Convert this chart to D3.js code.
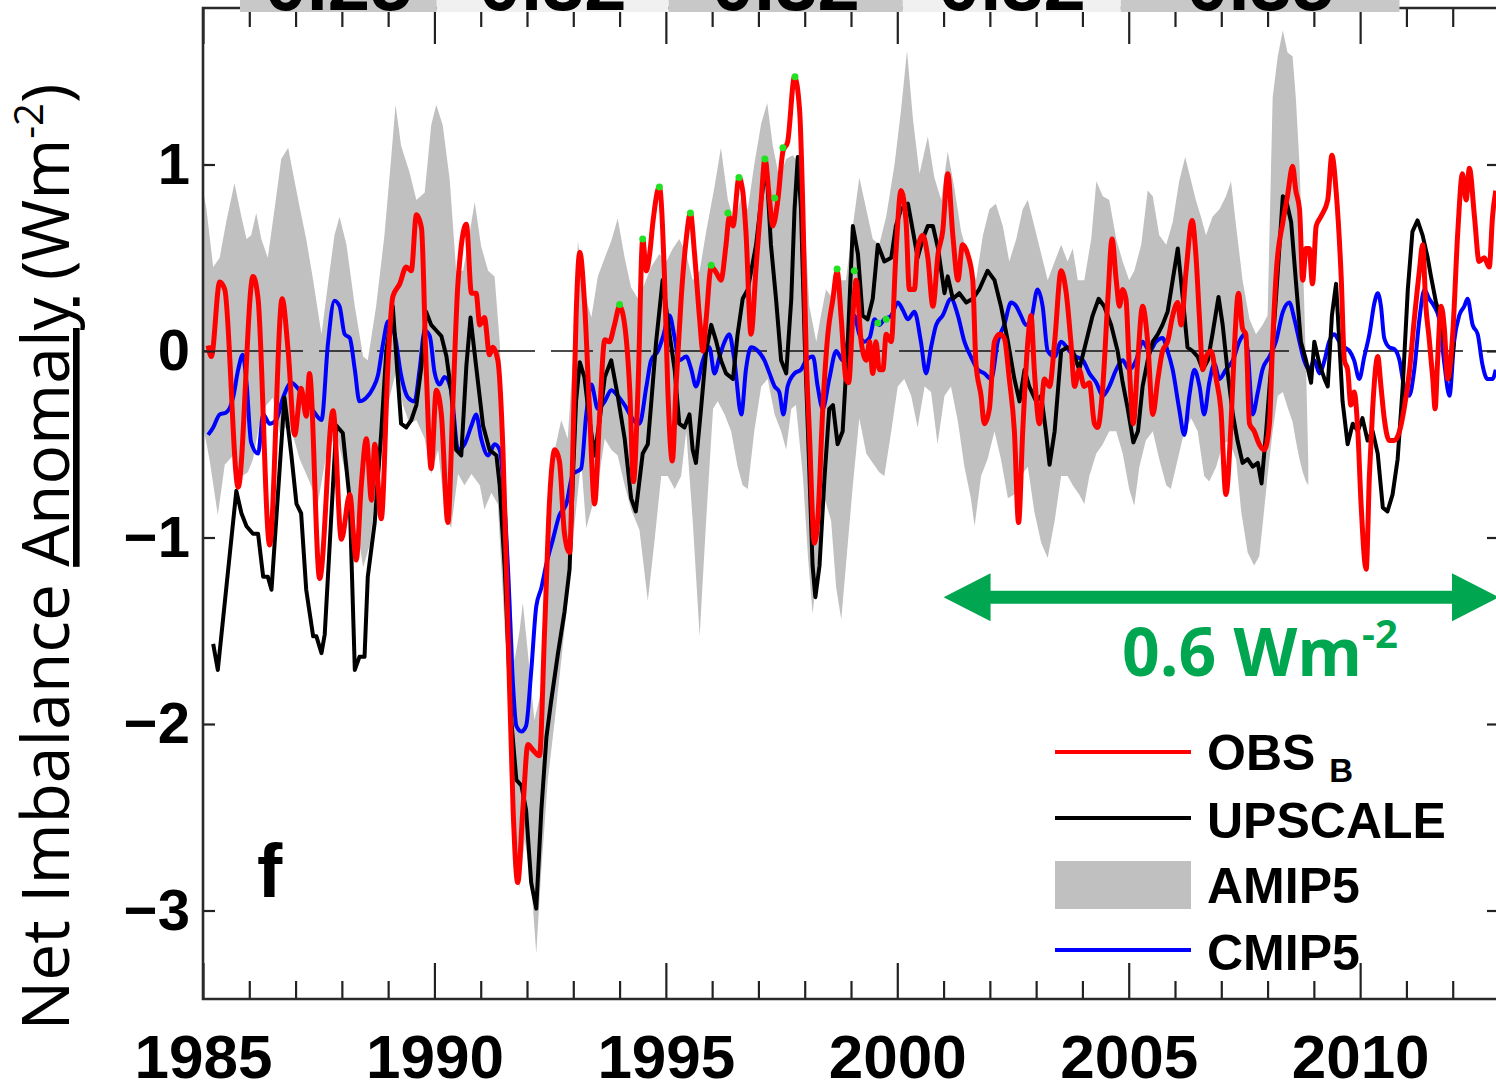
<!DOCTYPE html>
<html>
<head>
<meta charset="utf-8">
<script src="https://cdn.jsdelivr.net/npm/d3@7"></script>
<style>
  body { margin: 0; background: #fff; }
  svg { display: block; }
</style>
</head>
<body>
<div id="chart"></div>
<script>
// ---- data (year, W m-2) ----
const obsB = [[1985.11,0.03],[1985.18,-0.03],[1985.36,0.37],[1985.47,0.33],[1985.76,-0.73],[1986.08,0.40],[1986.19,0.28],[1986.44,-1.04],[1986.71,0.28],[1986.84,0.0],[1986.98,-0.45],[1987.12,-0.2],[1987.23,-0.35],[1987.30,-0.12],[1987.52,-1.22],[1987.81,-0.32],[1987.99,-1.01],[1988.17,-0.77],[1988.31,-1.12],[1988.42,-0.72],[1988.53,-0.47],[1988.64,-0.8],[1988.71,-0.5],[1988.85,-0.9],[1989.00,-0.05],[1989.10,0.29],[1989.25,0.36],[1989.39,0.45],[1989.50,0.43],[1989.61,0.73],
[1989.72,0.66],[1989.82,-0.08],[1989.93,-0.63],[1990.04,-0.21],[1990.15,-0.34],[1990.29,-0.92],[1990.40,-0.27],[1990.51,0.37],[1990.69,0.68],[1990.80,0.31],[1990.90,0.31],[1990.98,0.14],[1991.08,0.18],[1991.19,-0.02],[1991.26,0.02],[1991.37,-0.05],[1991.48,-0.53],[1991.59,-1.5],[1991.70,-2.46],[1991.80,-2.85],[1991.91,-2.46],[1992.02,-2.11],[1992.13,-2.14],[1992.27,-2.17],[1992.38,-1.5],[1992.49,-0.79],[1992.60,-0.53],[1992.70,-0.59],[1992.81,-0.98],[1992.92,-1.08],[1992.99,-0.53],[1993.06,0.18],[1993.14,0.53],[1993.24,0.27],[1993.35,-0.31],[1993.46,-0.82],[1993.57,-0.34],[1993.68,0.06],[1993.78,0.05],[1993.89,0.14],[1994.00,0.24],[1994.11,0.14],[1994.22,-0.21],
[1994.30,-0.7],[1994.40,-0.19],[1994.50,0.60],[1994.58,0.43],[1994.65,0.52],[1994.72,0.69],[1994.86,0.88],[1994.97,0.40],[1995.04,-0.19],[1995.14,-0.59],[1995.22,-0.19],[1995.33,0.28],[1995.44,0.60],[1995.53,0.74],[1995.62,0.52],[1995.73,0.17],[1995.80,0.0],[1995.87,0.17],[1995.98,0.45],[1996.09,0.42],[1996.19,0.38],[1996.30,0.57],[1996.37,0.72],[1996.45,0.67],[1996.58,0.93],[1996.66,0.86],[1996.73,0.64],[1996.84,0.09],[1996.95,0.45],[1997.06,0.81],[1997.14,1.03],[1997.24,0.81],[1997.31,0.67],[1997.42,0.81],[1997.53,1.07],[1997.63,1.12],[1997.78,1.47],[1997.89,1.29],[1997.96,0.76],[1998.03,0.0],[1998.10,-0.43],[1998.21,-1.03],[1998.28,-0.91],[1998.39,-0.31],[1998.50,0.09],[1998.61,0.28],[1998.70,0.43],[1998.79,0.17],[1998.89,-0.15],
[1998.95,-0.17],[1999.04,0.19],[1999.11,0.38],[1999.22,0.05],[1999.33,-0.05],[1999.40,0.05],[1999.47,-0.12],[1999.54,0.05],[1999.61,-0.10],[1999.69,-0.10],[1999.76,0.09],[1999.87,0.05],[1999.97,0.52],[2000.08,0.86],[2000.19,0.69],[2000.26,0.33],[2000.37,0.33],[2000.44,0.55],[2000.55,0.62],[2000.66,0.50],[2000.77,0.24],[2000.88,0.52],[2000.98,0.64],[2001.09,0.95],[2001.20,0.62],[2001.31,0.38],[2001.41,0.57],[2001.52,0.52],[2001.63,0.38],[2001.70,-0.07],[2001.81,-0.24],[2001.88,-0.39],[2001.99,-0.31],[2002.10,0.05],[2002.21,0.09],[2002.31,0.07],[2002.42,-0.15],[2002.53,-0.43],[2002.62,-0.92],[2002.71,-0.43],[2002.82,0.05],[2002.89,0.19],[2002.96,-0.10],[2003.07,-0.39],[2003.18,-0.15],[2003.29,-0.19],[2003.40,0.05],[2003.54,0.43],
[2003.65,0.31],[2003.75,0.05],[2003.83,-0.19],[2003.93,-0.10],[2004.04,-0.19],[2004.15,-0.17],[2004.26,-0.39],[2004.33,-0.41],[2004.44,-0.19],[2004.55,0.28],[2004.64,0.60],[2004.73,0.38],[2004.80,0.24],[2004.87,0.33],[2004.94,0.28],[2005.01,-0.07],[2005.10,-0.39],[2005.19,-0.07],[2005.30,0.24],[2005.41,0.05],[2005.52,-0.34],[2005.63,-0.15],[2005.73,0.0],[2005.84,0.05],[2005.95,0.19],[2006.06,0.26],[2006.13,0.14],[2006.24,0.43],[2006.37,0.70],[2006.45,0.52],[2006.53,0.17],[2006.60,-0.10],[2006.67,-0.03],[2006.78,0.0],[2006.89,-0.15],[2006.99,-0.31],[2007.10,-0.77],[2007.21,-0.39],[2007.28,0.0],[2007.37,0.31],[2007.46,0.12],[2007.53,0.09],[2007.61,-0.39],[2007.71,-0.43],[2007.82,-0.50],[2007.93,-0.53],[2008.04,-0.39],[2008.11,0.05],[2008.19,0.43],
[2008.33,0.69],[2008.43,0.83],[2008.54,0.99],[2008.61,0.86],[2008.69,0.76],[2008.76,0.38],[2008.83,0.55],[2008.90,0.55],[2008.97,0.36],[2009.05,0.67],[2009.15,0.72],[2009.30,0.81],[2009.39,1.05],[2009.48,0.86],[2009.59,0.40],[2009.66,-0.05],[2009.73,-0.10],[2009.80,-0.29],[2009.87,-0.22],[2009.95,-0.43],[2010.02,-0.82],[2010.13,-1.17],[2010.20,-0.67],[2010.27,-0.31],[2010.38,-0.03],[2010.45,-0.19],[2010.52,-0.36],[2010.63,-0.48],[2010.74,-0.48],[2010.85,-0.43],[2010.95,-0.31],[2011.06,-0.12],[2011.17,0.17],[2011.28,0.43],[2011.35,0.57],[2011.42,0.24],[2011.49,0.07],[2011.57,-0.15],[2011.62,-0.31],[2011.67,-0.07],[2011.75,0.24],[2011.82,0.12],[2011.89,-0.15],[2012.00,0.09],[2012.11,0.64],[2012.21,0.95],[2012.29,0.81],[2012.36,0.98],[2012.47,0.72],[2012.57,0.48],[2012.68,0.50],[2012.79,0.45],[2012.86,0.72],[2012.93,0.86]];

const upscale = [[1985.22,-1.57],[1985.32,-1.71],[1985.72,-0.75],[1985.83,-0.87],[1985.94,-0.94],[1986.08,-0.98],[1986.19,-0.98],[1986.30,-1.21],[1986.40,-1.21],[1986.48,-1.28],[1986.76,-0.25],[1986.91,-0.56],[1987.02,-0.82],[1987.12,-0.87],[1987.23,-1.28],[1987.38,-1.53],[1987.45,-1.53],[1987.56,-1.62],[1987.63,-1.52],[1987.88,-0.40],[1988.02,-0.44],[1988.17,-0.80],[1988.28,-1.71],[1988.38,-1.64],[1988.49,-1.64],[1988.56,-1.21],[1988.71,-0.92],[1988.85,-0.44],[1988.96,0.0],[1989.10,0.24],[1989.21,-0.15],[1989.28,-0.39],[1989.39,-0.41],[1989.50,-0.37],[1989.61,-0.29],
[1989.72,-0.08],[1989.82,0.21],[1989.93,0.14],[1990.04,0.11],[1990.15,0.08],[1990.26,-0.03],[1990.36,-0.21],[1990.47,-0.53],[1990.58,-0.56],[1990.69,-0.08],[1990.78,0.18],[1990.90,-0.08],[1991.05,-0.40],[1991.19,-0.53],[1991.34,-0.56],[1991.41,-0.72],[1991.52,-1.17],[1991.66,-1.98],[1991.77,-2.30],[1991.88,-2.33],[1991.98,-2.46],[1992.09,-2.85],[1992.20,-2.99],[1992.31,-2.46],[1992.42,-2.07],[1992.52,-1.88],[1992.67,-1.62],[1992.81,-1.40],[1992.92,-1.17],[1992.99,-0.69],[1993.06,-0.27],[1993.14,-0.06],[1993.24,-0.14],[1993.35,-0.37],[1993.46,-0.56],[1993.57,-0.37],[1993.68,-0.14],[1993.82,-0.05],[1993.96,-0.24],[1994.11,-0.47],[1994.25,-0.79],
[1994.35,-0.86],[1994.50,-0.55],[1994.61,-0.50],[1994.68,-0.29],[1994.79,0.05],[1994.93,0.38],[1995.08,0.09],[1995.19,-0.10],[1995.29,-0.39],[1995.40,-0.41],[1995.51,-0.34],[1995.58,-0.53],[1995.65,-0.60],[1995.76,-0.31],[1995.87,0.0],[1995.98,0.14],[1996.09,0.05],[1996.19,-0.05],[1996.30,-0.12],[1996.45,-0.15],[1996.55,0.09],[1996.66,0.28],[1996.77,0.33],[1996.95,0.57],[1997.06,0.81],[1997.17,1.0],[1997.27,0.57],[1997.38,0.28],[1997.49,-0.05],[1997.60,-0.12],[1997.71,0.28],[1997.78,0.76],[1997.85,1.04],[1997.92,0.76],[1998.00,0.05],[1998.07,-0.43],[1998.17,-1.15],[1998.23,-1.32],[1998.32,-1.15],[1998.43,-0.67],[1998.53,-0.31],[1998.61,-0.29],[1998.71,-0.50],[1998.82,-0.43],[1998.93,0.05],
[1999.04,0.67],[1999.15,0.52],[1999.25,0.19],[1999.36,0.17],[1999.47,0.28],[1999.58,0.57],[1999.72,0.48],[1999.87,0.50],[1999.97,0.67],[2000.08,0.76],[2000.23,0.79],[2000.34,0.64],[2000.44,0.50],[2000.55,0.60],[2000.66,0.67],[2000.77,0.67],[2000.88,0.55],[2001.02,0.31],[2001.09,0.40],[2001.20,0.28],[2001.34,0.31],[2001.49,0.26],[2001.63,0.28],[2001.77,0.33],[2001.95,0.43],[2002.10,0.38],[2002.24,0.24],[2002.39,0.05],[2002.53,-0.15],[2002.64,-0.27],[2002.75,-0.10],[2002.85,-0.19],[2003.00,-0.27],[2003.11,-0.24],[2003.21,-0.43],[2003.29,-0.61],[2003.40,-0.43],[2003.54,0.0],
[2003.68,0.02],[2003.79,0.0],[2003.93,-0.10],[2004.08,0.05],[2004.22,0.19],[2004.35,0.28],[2004.47,0.24],[2004.62,0.14],[2004.76,0.0],[2004.87,-0.17],[2004.98,-0.31],[2005.10,-0.49],[2005.20,-0.43],[2005.30,-0.19],[2005.41,-0.05],[2005.52,0.05],[2005.63,0.09],[2005.73,0.14],[2005.84,0.21],[2005.95,0.38],[2006.06,0.55],[2006.17,0.28],[2006.27,0.02],[2006.38,0.0],[2006.49,-0.03],[2006.60,-0.10],[2006.71,-0.05],[2006.81,0.09],[2006.94,0.29],[2007.03,0.14],[2007.14,-0.12],[2007.25,-0.34],[2007.35,-0.48],[2007.46,-0.60],[2007.57,-0.58],[2007.68,-0.62],[2007.79,-0.60],[2007.87,-0.71],[2007.97,-0.43],[2008.07,-0.10],[2008.18,0.28],
[2008.33,0.83],[2008.40,0.81],[2008.51,0.69],[2008.61,0.38],[2008.72,0.05],[2008.83,-0.05],[2008.94,-0.17],[2009.01,0.05],[2009.12,-0.07],[2009.23,-0.15],[2009.30,-0.19],[2009.39,0.19],[2009.48,0.36],[2009.55,0.05],[2009.62,-0.27],[2009.73,-0.50],[2009.84,-0.39],[2009.95,-0.43],[2010.05,-0.36],[2010.16,-0.48],[2010.27,-0.43],[2010.38,-0.55],[2010.49,-0.84],[2010.59,-0.86],[2010.70,-0.77],[2010.81,-0.58],[2010.92,-0.19],[2011.03,0.33],[2011.13,0.64],[2011.24,0.70],[2011.35,0.62],[2011.46,0.50],[2011.53,0.40],[2011.64,0.26],[2011.75,0.17],[2011.85,0.0],[2011.93,-0.15],[2012.03,0.05]];

const cmip5 = [[1985.11,-0.45],[1985.22,-0.41],[1985.36,-0.34],[1985.50,-0.33],[1985.65,-0.25],[1985.76,-0.10],[1985.86,-0.02],[1985.94,-0.17],[1986.04,-0.49],[1986.19,-0.55],[1986.30,-0.34],[1986.44,-0.39],[1986.58,-0.37],[1986.73,-0.25],[1986.91,-0.17],[1987.05,-0.20],[1987.20,-0.25],[1987.38,-0.32],[1987.56,-0.37],[1987.70,0.04],[1987.84,0.27],[1987.95,0.24],[1988.06,0.09],[1988.17,0.07],[1988.28,-0.10],[1988.38,-0.27],[1988.53,-0.25],[1988.67,-0.20],[1988.78,-0.13],[1988.89,0.04],[1989.00,0.16],[1989.14,0.09],[1989.28,-0.13],[1989.43,-0.25],[1989.57,-0.27],[1989.68,-0.1],[1989.79,0.11],[1989.90,0.08],[1990.00,-0.11],[1990.11,-0.18],[1990.22,-0.14],[1990.36,-0.21],[1990.51,-0.53],[1990.65,-0.50],[1990.80,-0.40],[1990.90,-0.34],[1991.01,-0.47],[1991.16,-0.56],[1991.30,-0.50],[1991.41,-0.53],[1991.59,-1.17],[1991.70,-1.80],[1991.77,-2.01],[1991.88,-2.04],[1991.98,-2.01],[1992.09,-1.72],[1992.20,-1.37],[1992.31,-1.27],[1992.42,-1.14],[1992.56,-1.01],[1992.70,-0.88],[1992.85,-0.82],[1992.99,-0.66],[1993.17,-0.63],[1993.28,-0.34],[1993.39,-0.18],[1993.53,-0.31],[1993.68,-0.27],[1993.82,-0.21],[1993.96,-0.24],[1994.11,-0.29],[1994.30,-0.37],[1994.43,-0.39],[1994.58,-0.19],[1994.68,-0.05],[1994.83,0.0],[1994.93,0.07],[1995.08,0.19],[1995.19,0.07],[1995.29,-0.05],[1995.44,-0.03],[1995.55,-0.10],[1995.65,-0.19],[1995.80,-0.05],[1995.94,0.02],[1996.05,-0.12],[1996.16,-0.03],[1996.27,0.05],[1996.37,0.09],[1996.48,-0.05],[1996.63,-0.34],[1996.73,-0.10],[1996.84,0.02],[1996.99,0.0],[1997.13,-0.05],[1997.24,-0.12],[1997.35,-0.19],[1997.45,-0.22],[1997.54,-0.34],[1997.63,-0.19],[1997.78,-0.12],[1997.92,-0.10],[1998.03,-0.05],[1998.18,-0.03],[1998.28,-0.19],[1998.39,-0.31],[1998.53,-0.15],[1998.68,0.0],[1998.82,-0.05],[1998.93,0.05],[1999.07,0.19],[1999.18,0.09],[1999.29,0.05],[1999.40,0.07],[1999.51,0.17],[1999.61,0.14],[1999.72,0.17],[1999.87,0.19],[2000.01,0.26],[2000.12,0.22],[2000.23,0.17],[2000.37,0.21],[2000.51,0.05],[2000.62,-0.12],[2000.73,0.02],[2000.84,0.14],[2000.98,0.19],[2001.16,0.28],[2001.31,0.19],[2001.45,0.05],[2001.59,-0.03],[2001.74,-0.10],[2001.88,-0.12],[2002.03,-0.15],[2002.17,0.05],[2002.31,0.14],[2002.46,0.26],[2002.57,0.24],[2002.67,0.19],[2002.78,0.14],[2002.89,0.17],[2003.03,0.33],[2003.14,0.24],[2003.25,0.0],[2003.40,-0.03],[2003.54,0.05],[2003.72,0.0],[2003.86,-0.03],[2004.01,-0.05],[2004.15,-0.12],[2004.30,-0.17],[2004.44,-0.24],[2004.58,-0.19],[2004.73,-0.10],[2004.87,-0.05],[2005.01,-0.10],[2005.16,-0.05],[2005.30,0.05],[2005.45,0.0],[2005.59,0.05],[2005.73,0.07],[2005.84,0.0],[2005.95,-0.10],[2006.09,-0.31],[2006.20,-0.45],[2006.31,-0.24],[2006.42,-0.10],[2006.53,-0.19],[2006.63,-0.34],[2006.74,-0.17],[2006.85,-0.07],[2006.96,-0.15],[2007.10,-0.10],[2007.25,-0.05],[2007.39,0.05],[2007.50,0.09],[2007.57,0.0],[2007.68,-0.34],[2007.79,-0.22],[2007.89,-0.10],[2008.04,-0.03],[2008.18,0.05],[2008.33,0.21],[2008.47,0.26],[2008.58,0.17],[2008.69,0.05],[2008.79,-0.05],[2008.90,-0.10],[2009.01,-0.05],[2009.12,-0.12],[2009.23,-0.05],[2009.33,0.05],[2009.44,0.09],[2009.55,0.05],[2009.66,0.02],[2009.77,0.0],[2009.87,-0.05],[2009.98,-0.15],[2010.09,-0.03],[2010.20,0.09],[2010.31,0.26],[2010.38,0.31],[2010.45,0.24],[2010.52,0.07],[2010.63,0.02],[2010.74,0.01],[2010.85,-0.05],[2010.95,-0.19],[2011.06,-0.24],[2011.17,-0.10],[2011.28,0.17],[2011.39,0.33],[2011.49,0.28],[2011.60,0.24],[2011.71,0.17],[2011.82,-0.07],[2011.93,-0.24],[2012.03,0.05],[2012.14,0.19],[2012.25,0.24],[2012.32,0.28],[2012.43,0.14],[2012.54,0.09],[2012.64,-0.07],[2012.75,-0.15],[2012.86,-0.15],[2012.93,-0.10]];

// AMIP5 envelope: upper and lower edges
const amipUpper = [[1985.00,0.86],[1985.07,0.77],[1985.22,0.45],[1985.36,0.50],[1985.50,0.69],[1985.68,0.90],[1985.83,0.72],[1985.94,0.60],[1986.04,0.62],[1986.15,0.74],[1986.26,0.60],[1986.40,0.50],[1986.55,0.77],[1986.69,1.03],[1986.84,1.09],[1986.94,0.96],[1987.09,0.77],[1987.23,0.60],[1987.38,0.38],[1987.56,0.09],[1987.70,0.36],[1987.84,0.62],[1987.95,0.72],[1988.10,0.57],[1988.28,0.24],[1988.46,-0.03],[1988.56,-0.05],[1988.74,0.24],[1988.92,0.62],[1989.07,1.05],[1989.16,1.32],[1989.28,1.10],[1989.46,0.96],[1989.61,0.81],[1989.79,0.85],[1989.93,1.21],[1990.04,1.32],[1990.18,1.21],[1990.33,0.92],[1990.47,0.43],[1990.62,0.43],[1990.76,0.63],[1990.87,0.80],[1991.01,0.56],[1991.16,0.43],[1991.30,0.40],[1991.41,0.05],[1991.52,-0.53],[1991.62,-1.17],[1991.73,-1.66],[1991.84,-1.50],[1991.91,-1.35],[1992.02,-1.62],[1992.16,-1.98],[1992.31,-1.82],[1992.45,-1.17],[1992.60,-0.53],[1992.74,-0.37],[1992.88,-0.47],[1992.99,-0.05],[1993.10,0.59],[1993.24,0.31],[1993.39,0.18],[1993.53,0.40],[1993.68,0.50],[1993.82,0.59],[1993.96,0.71],[1994.11,0.50],[1994.25,0.34],[1994.40,0.28],[1994.54,0.36],[1994.68,0.45],[1994.86,0.52],[1995.01,0.48],[1995.15,0.55],[1995.29,0.60],[1995.44,0.52],[1995.58,0.38],[1995.73,0.43],[1995.87,0.64],[1996.05,0.88],[1996.19,1.09],[1996.34,0.81],[1996.48,0.69],[1996.63,0.83],[1996.77,0.76],[1996.91,1.00],[1997.06,1.22],[1997.19,1.33],[1997.31,1.10],[1997.45,0.93],[1997.60,1.03],[1997.74,1.05],[1997.89,1.00],[1998.00,0.69],[1998.10,0.24],[1998.25,0.05],[1998.35,0.19],[1998.46,0.33],[1998.61,0.28],[1998.75,0.38],[1998.89,0.38],[1999.04,0.67],[1999.18,0.93],[1999.33,0.76],[1999.47,0.60],[1999.61,0.57],[1999.76,0.72],[1999.94,1.00],[2000.08,1.29],[2000.21,1.61],[2000.34,1.24],[2000.48,0.95],[2000.66,1.15],[2000.80,0.93],[2000.95,0.81],[2001.09,1.07],[2001.23,0.88],[2001.38,0.64],[2001.52,0.52],[2001.70,0.38],[2001.85,0.62],[2001.99,0.76],[2002.13,0.79],[2002.28,0.67],[2002.42,0.48],[2002.57,0.60],[2002.71,0.76],[2002.82,0.81],[2002.96,0.67],[2003.11,0.52],[2003.25,0.38],[2003.40,0.48],[2003.54,0.57],[2003.68,0.48],[2003.79,0.55],[2003.90,0.38],[2004.04,0.38],[2004.19,0.60],[2004.30,0.91],[2004.44,0.83],[2004.58,0.81],[2004.73,0.60],[2004.87,0.48],[2005.01,0.38],[2005.12,0.43],[2005.27,0.57],[2005.41,0.86],[2005.52,0.83],[2005.66,0.62],[2005.81,0.57],[2005.95,0.69],[2006.09,0.91],[2006.22,1.04],[2006.35,0.91],[2006.45,0.81],[2006.56,0.72],[2006.67,0.62],[2006.81,0.72],[2006.96,0.76],[2007.10,0.83],[2007.21,0.91],[2007.32,0.67],[2007.46,0.38],[2007.61,0.17],[2007.75,0.09],[2007.89,0.14],[2008.00,0.19],[2008.11,1.36],[2008.22,1.58],[2008.33,1.72],[2008.43,1.60],[2008.54,1.58],[2008.61,1.36],[2008.69,1.00],[2008.76,0.52],[2008.83,-0.07],[2008.88,-0.6]];

const amipLower = [[1985.00,-0.40],[1985.14,-0.58],[1985.32,-0.88],[1985.47,-0.61],[1985.65,-0.56],[1985.79,-0.68],[1985.97,-0.65],[1986.08,-0.58],[1986.22,-0.39],[1986.37,-0.29],[1986.51,-0.25],[1986.66,-0.44],[1986.87,-0.39],[1987.09,-0.58],[1987.30,-0.70],[1987.48,-0.82],[1987.66,-0.56],[1987.88,-0.44],[1988.10,-0.68],[1988.31,-0.92],[1988.46,-1.16],[1988.60,-1.04],[1988.74,-0.73],[1988.89,-0.49],[1989.03,-0.25],[1989.18,-0.10],[1989.32,-0.29],[1989.46,-0.39],[1989.61,-0.37],[1989.79,-0.47],[1989.93,-0.66],[1990.08,-0.53],[1990.22,-0.85],[1990.36,-0.95],[1990.51,-0.66],[1990.65,-0.72],[1990.80,-0.66],[1990.98,-0.72],[1991.08,-0.85],[1991.23,-0.76],[1991.37,-0.82],[1991.52,-1.50],[1991.66,-2.14],[1991.77,-2.72],[1991.84,-2.88],[1991.95,-2.62],[1992.09,-2.85],[1992.20,-3.23],[1992.31,-2.78],[1992.45,-2.30],[1992.60,-1.98],[1992.74,-1.66],[1992.88,-1.33],[1993.03,-0.92],[1993.17,-0.59],[1993.28,-0.95],[1993.39,-0.85],[1993.53,-0.72],[1993.68,-0.47],[1993.82,-0.53],[1993.96,-0.56],[1994.11,-0.72],[1994.25,-0.85],[1994.43,-0.96],[1994.61,-1.34],[1994.75,-1.03],[1994.90,-0.67],[1995.04,-0.67],[1995.19,-0.74],[1995.33,-0.67],[1995.44,-0.43],[1995.58,-0.91],[1995.73,-1.53],[1995.87,-0.91],[1996.02,-0.31],[1996.12,-0.27],[1996.27,-0.34],[1996.41,-0.43],[1996.55,-0.62],[1996.66,-0.72],[1996.77,-0.74],[1996.91,-0.43],[1997.06,-0.19],[1997.20,-0.15],[1997.35,-0.34],[1997.49,-0.43],[1997.60,-0.53],[1997.71,-0.31],[1997.81,-0.29],[1997.96,-0.67],[1998.07,-1.10],[1998.17,-1.41],[1998.28,-1.15],[1998.43,-0.79],[1998.57,-0.91],[1998.68,-1.27],[1998.79,-1.44],[1998.89,-1.15],[1999.04,-0.72],[1999.18,-0.36],[1999.33,-0.55],[1999.47,-0.60],[1999.61,-0.65],[1999.72,-0.67],[1999.87,-0.43],[2000.01,-0.19],[2000.15,-0.15],[2000.30,-0.24],[2000.44,-0.41],[2000.59,-0.19],[2000.73,-0.22],[2000.87,-0.50],[2001.02,-0.24],[2001.16,-0.19],[2001.31,-0.38],[2001.45,-0.62],[2001.59,-0.79],[2001.67,-0.94],[2001.81,-0.67],[2001.95,-0.58],[2002.10,-0.43],[2002.24,-0.58],[2002.39,-0.79],[2002.53,-0.77],[2002.67,-0.67],[2002.82,-0.62],[2002.96,-0.86],[2003.11,-1.03],[2003.25,-1.11],[2003.40,-0.91],[2003.54,-0.67],[2003.68,-0.67],[2003.79,-0.72],[2003.93,-0.77],[2004.04,-0.82],[2004.15,-0.67],[2004.30,-0.55],[2004.44,-0.50],[2004.58,-0.43],[2004.73,-0.43],[2004.87,-0.55],[2005.01,-0.74],[2005.12,-0.83],[2005.23,-0.62],[2005.37,-0.48],[2005.52,-0.43],[2005.66,-0.58],[2005.81,-0.72],[2005.91,-0.74],[2006.06,-0.58],[2006.20,-0.43],[2006.35,-0.36],[2006.49,-0.43],[2006.63,-0.67],[2006.74,-0.70],[2006.89,-0.62],[2007.03,-0.50],[2007.17,-0.48],[2007.32,-0.58],[2007.43,-0.86],[2007.57,-1.08],[2007.71,-1.15],[2007.82,-1.10],[2007.89,-0.94],[2008.00,-0.67],[2008.11,-0.43],[2008.22,-0.24],[2008.33,-0.22],[2008.43,-0.3],[2008.54,-0.38],[2008.61,-0.48],[2008.69,-0.58],[2008.76,-0.65],[2008.83,-0.7],[2008.88,-0.72]];

// green highlights on OBS peaks
const greenMarks = [[1994.00,0.25],[1994.50,0.60],[1994.86,0.88],[1995.53,0.74],[1995.98,0.46],[1996.34,0.74],[1996.58,0.93],[1997.14,1.03],[1997.35,0.82],[1997.53,1.09],[1997.79,1.47],[1998.70,0.44],[1999.07,0.43],[1999.58,0.15],[1999.76,0.17]];

const majorYears = [1985, 1990, 1995, 2000, 2005, 2010];
const minorYears = d3.range(1986, 2013).filter(d => d % 5 !== 0);
const yTicks = [-3, -2, -1, 0, 1];

// cropped row of values at the top, with period edges (years)
const topLabels = ["0.25", "0.32", "0.32", "0.32", "0.35"];
const topEdges = [1985.8, 1990.05, 1995.06, 2000.12, 2004.83, 2010.85];

const legendItems = ["OBS", "UPSCALE", "AMIP5", "CMIP5"];

const arrowSpan = [2001, 2013];
const arrowLevel = -1.32;

// ---- layout ----
const W = 1496, H = 1086;
const plotL = 203, plotR = 1499, plotT = 8, plotB = 999;
const boldFont = "'Liberation Sans', Arial, Helvetica, sans-serif";
const labelFont = "'Open Sans', 'Noto Sans', sans-serif";
const green = "#00a650";

const x = d3.scaleLinear().domain([1985, 2013]).range([plotL, plotR]);
const y = d3.scaleLinear().domain([-3, 1]).range([910.5, 164.5]);

const svg = d3.select("#chart").append("svg").attr("width", W).attr("height", H);

svg.append("clipPath").attr("id", "plotclip")
  .append("rect").attr("x", plotL).attr("y", plotT).attr("width", plotR - plotL).attr("height", plotB - plotT);

const plot = svg.append("g").attr("clip-path", "url(#plotclip)");

const line = d3.line().x(d => x(d[0])).y(d => y(d[1]));
const smooth = d3.line().x(d => x(d[0])).y(d => y(d[1])).curve(d3.curveMonotoneX);

// AMIP5 band
plot.append("path")
  .attr("d", line(amipUpper.concat(amipLower.slice().reverse())) + "Z")
  .attr("fill", "#c0c0c0");

// zero line
plot.append("path")
  .attr("d", line([[1985, 0], [2013, 0]]))
  .attr("stroke", "#111").attr("stroke-width", 1.6)
  .attr("stroke-dasharray", "100 16 42 16 42 16");

plot.append("path").attr("d", smooth(cmip5))
  .attr("fill", "none").attr("stroke", "#0000ff").attr("stroke-width", 4).attr("stroke-linejoin", "round");
plot.append("path").attr("d", line(upscale))
  .attr("fill", "none").attr("stroke", "#000").attr("stroke-width", 4).attr("stroke-linejoin", "round");
plot.append("path").attr("d", smooth(obsB))
  .attr("fill", "none").attr("stroke", "#ff0000").attr("stroke-width", 5).attr("stroke-linejoin", "round");

plot.selectAll("circle.g").data(greenMarks).enter().append("circle")
  .attr("cx", d => x(d[0])).attr("cy", d => y(d[1])).attr("r", 3.5)
  .attr("fill", "#22e022");

// ---- axes ----
function styleAxis(g) {
  g.select(".domain").remove();
  g.selectAll(".tick line").attr("stroke", "#222").attr("stroke-width", 2.2);
  g.attr("font-family", boldFont).attr("font-weight", "bold");
}

svg.append("g").attr("transform", `translate(0,${plotB})`)
  .call(d3.axisBottom(x).tickValues(majorYears).tickSize(-36).tickPadding(35).tickFormat(d3.format("d")))
  .call(styleAxis).attr("font-size", 62)
  .selectAll("text").attr("fill", "#000");
svg.append("g").attr("transform", `translate(0,${plotB})`)
  .call(d3.axisBottom(x).tickValues(minorYears).tickSize(-18).tickFormat(""))
  .call(styleAxis);
svg.append("g").attr("transform", `translate(0,${plotT})`)
  .call(d3.axisTop(x).tickValues(majorYears).tickSize(-36).tickFormat(""))
  .call(styleAxis);
svg.append("g").attr("transform", `translate(0,${plotT})`)
  .call(d3.axisTop(x).tickValues(minorYears).tickSize(-19).tickFormat(""))
  .call(styleAxis);
svg.append("g").attr("transform", `translate(${plotL},0)`)
  .call(d3.axisLeft(y).tickValues(yTicks).tickSize(-12).tickPadding(13).tickFormat(d3.format("d")))
  .call(styleAxis).attr("font-size", 58)
  .selectAll("text").attr("fill", "#000");
svg.append("g").attr("transform", `translate(${plotR},0)`)
  .call(d3.axisRight(y).tickValues(yTicks).tickSize(-12).tickFormat(""))
  .call(styleAxis);

// frame
svg.append("path")
  .attr("d", `M${plotR},${plotT}H${plotL}V${plotB}H${plotR}`)
  .attr("fill", "none").attr("stroke", "#2a2a2a").attr("stroke-width", 2.6);

// ---- top strip (cropped numbers) ----
const strip = svg.append("g");
topLabels.forEach((t, i) => {
  const x0 = x(topEdges[i]), x1 = x(topEdges[i + 1]);
  strip.append("rect").attr("x", x0).attr("y", 0).attr("width", x1 - x0).attr("height", 12)
    .attr("fill", i % 2 === 0 ? "#c8c8c8" : "#f0f0f0");
  strip.append("text").attr("x", (x0 + x1) / 2).attr("y", 10)
    .attr("text-anchor", "middle").attr("font-family", boldFont).attr("font-weight", "bold")
    .attr("font-size", 76).text(t);
});

// ---- y label ----
const yl = svg.append("text")
  .attr("transform", "translate(69,557) rotate(-90)")
  .attr("text-anchor", "middle")
  .attr("font-family", labelFont).attr("font-size", 66).attr("fill", "#000");
yl.append("tspan").text("Net Imbalance ");
yl.append("tspan").attr("text-decoration", "underline").style("text-decoration", "underline").text("Anomaly");
yl.append("tspan").text(" (Wm");
yl.append("tspan").attr("font-size", 40).attr("dy", -26).text("-2");
yl.append("tspan").attr("dy", 26).text(")");

// panel letter
svg.append("text").attr("x", 257).attr("y", 897)
  .attr("font-family", boldFont).attr("font-weight", "bold").attr("font-size", 76).text("f");

// ---- green arrow ----
const ax0 = x(arrowSpan[0]), ax1 = x(arrowSpan[1]), ay = y(arrowLevel);
svg.append("line").attr("x1", ax0 + 40).attr("x2", ax1 - 40).attr("y1", ay).attr("y2", ay)
  .attr("stroke", green).attr("stroke-width", 13);
svg.append("path").attr("d", `M${ax0},${ay}L${ax0 + 47},${ay - 24}L${ax0 + 47},${ay + 24}Z`).attr("fill", green);
svg.append("path").attr("d", `M${ax1},${ay}L${ax1 - 47},${ay - 24}L${ax1 - 47},${ay + 24}Z`).attr("fill", green);

const gl = svg.append("text").attr("x", 1122).attr("y", 676)
  .attr("font-family", labelFont).attr("font-weight", "bold").attr("font-size", 66).attr("fill", green);
gl.append("tspan").text("0.6 Wm");
gl.append("tspan").attr("font-size", 40).attr("dy", -28).text("-2");

// ---- legend ----
const lg = svg.append("g").attr("font-family", boldFont).attr("font-weight", "bold").attr("font-size", 50);
const lineY = [752, 818, 885, 950];
const textY = [770, 838, 903, 970];
const legColors = ["#ff0000", "#000", "#c0c0c0", "#0000ff"];
legendItems.forEach((name, i) => {
  if (i === 2) {
    lg.append("rect").attr("x", 1055).attr("y", 861).attr("width", 136).attr("height", 48).attr("fill", legColors[i]);
  } else {
    lg.append("line").attr("x1", 1055).attr("x2", 1191).attr("y1", lineY[i]).attr("y2", lineY[i])
      .attr("stroke", legColors[i]).attr("stroke-width", 4);
  }
  const t = lg.append("text").attr("x", 1207).attr("y", textY[i]).text(name);
  if (i === 0) t.append("tspan").attr("font-size", 33).attr("dx", 14).attr("dy", 12).text("B");
});
</script>
</body>
</html>
